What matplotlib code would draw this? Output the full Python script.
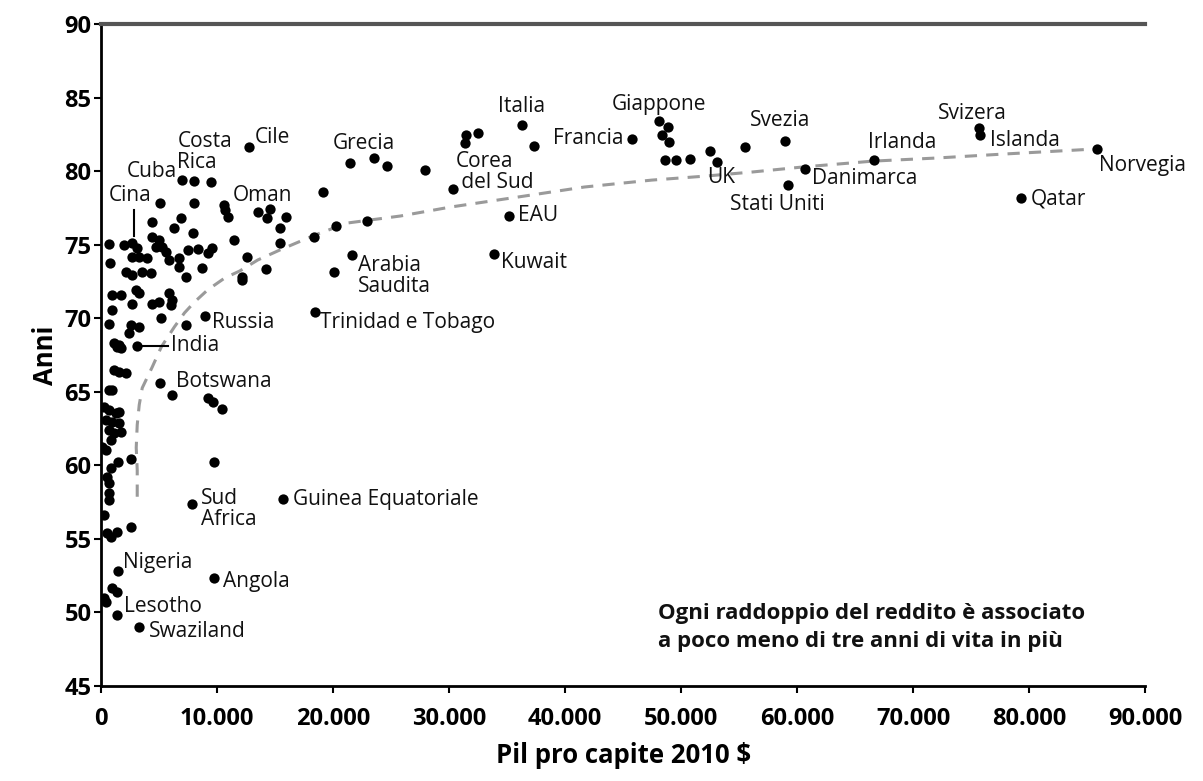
#!/usr/bin/env python3
import matplotlib
matplotlib.use("Agg")
import matplotlib.pyplot as plt

# ---------------------------------------------------------------------------
# Data
# ---------------------------------------------------------------------------
# GDP per capita (2010 $) and life expectancy (years) for each country dot
GDP = [
    7015, 8054, 9439, 12730, 5109, 8054, 10565, 10652, 10912, 13510,
    14549, 14289, 15934, 15415, 15415, 11431, 4417, 6928, 6322, 7967,
    693, 779, 1992, 2685, 3118, 4417, 5023, 4763, 5283, 5629,
    5889, 6755, 7534, 8314, 9180, 9526, 12557, 2685, 3291, 3984,
    2165, 2685, 3551, 4330, 6755, 7361, 8660, 12124, 12124, 14202,
    19139, 18359, 20264, 22949, 20091, 21650, 18446, 21477, 23555, 24681,
    27885, 30310, 31436, 31349, 32475, 36285, 37325, 35160, 33861, 45725,
    48063, 48842, 48323, 48929, 48583, 49535, 50748, 52480, 53086, 55511,
    58975, 59234, 60707, 66595, 75688, 75775, 85821, 79326,
    953, 1732, 3031, 3291, 2685, 4417, 5023, 5889, 6149, 6062,
    953, 5196, 7361, 8920, 693, 2598, 3291, 2425, 1126, 1386,
    1732, 1559, 3118, 1126, 1559, 2165, 5109, 693, 953, 6149,
    9180, 9613, 10392, 260, 693, 1299, 1559, 433, 953, 1559,
    693, 1126, 1732, 866, 87, 433, 2598, 1472, 866, 9699,
    520, 693, 693, 693, 260, 7881, 15675, 2598, 1386, 866,
    520, 1472, 9699, 953, 1386, 260, 433, 1386, 3291,
]
LIFE = [
    79.40, 79.33, 79.27, 81.64, 77.84, 77.84, 77.70, 77.36, 76.89, 77.23,
    77.43, 76.82, 76.89, 76.14, 75.12, 75.33, 76.55, 76.82, 76.14, 75.80,
    75.05, 73.76, 74.99, 75.12, 74.78, 75.53, 75.33, 74.85, 74.85, 74.51,
    73.97, 74.10, 74.65, 74.71, 74.44, 74.78, 74.17, 74.17, 74.17, 74.10,
    73.15, 72.95, 73.15, 73.08, 73.49, 72.81, 73.42, 72.81, 72.61, 73.36,
    78.59, 75.53, 76.28, 76.62, 73.15, 74.31, 70.43, 80.56, 80.90, 80.35,
    80.08, 78.79, 82.46, 81.92, 82.60, 83.14, 81.71, 76.96, 74.38, 82.19,
    83.41, 83.00, 82.46, 81.98, 80.76, 80.76, 80.83, 81.37, 80.62, 81.64,
    82.05, 79.06, 80.15, 80.76, 82.93, 82.46, 81.51, 78.18,
    71.59, 71.59, 71.93, 71.73, 70.98, 70.98, 71.11, 71.73, 71.25, 70.91,
    70.57, 70.03, 69.55, 70.16, 69.62, 69.55, 69.42, 69.01, 68.33, 68.06,
    67.99, 68.19, 68.13, 66.49, 66.36, 66.29, 65.61, 65.14, 65.14, 64.80,
    64.59, 64.32, 63.85, 63.98, 63.78, 63.57, 63.64, 63.10, 62.96, 62.89,
    62.42, 62.21, 62.28, 61.74, 61.26, 61.06, 60.45, 60.24, 59.84, 60.24,
    59.23, 58.82, 58.14, 57.66, 56.64, 57.39, 57.73, 55.83, 55.49, 55.15,
    55.42, 52.84, 52.36, 51.68, 51.41, 51.00, 50.73, 49.85, 49.04,
]

# Dashed trend curve
CURVE_GDP = [3118, 3118, 3031, 3118, 3291, 3551, 4417, 5196, 6322, 7188,
             8054, 9180, 10652, 11951, 13510, 15415, 18446, 21217, 25807,
             30137, 35939, 41655, 47457, 52047, 56117, 60447, 66509, 71965,
             77767, 85561]
CURVE_LIFE = [57.87, 59.70, 61.20, 62.76, 64.12, 65.27, 66.70, 68.06, 69.42,
              70.37, 71.11, 71.93, 72.74, 73.22, 73.97, 74.65, 75.67, 76.48,
              76.96, 77.57, 78.25, 78.93, 79.40, 79.67, 79.95, 80.29, 80.69,
              80.90, 81.17, 81.51]

# Country labels: text, x, y (left edge, vertical centre)
LABELS = [
    ("Cuba", 2252, 79.98), ("Costa\nRica", 6582, 81.34), ("Cile", 13250, 82.32),
    ("Cina", 693, 78.32), ("Oman", 11345, 78.38), ("Grecia", 20005, 81.92),
    ("Italia", 34207, 84.43), ("Francia", 38970, 82.26),
    ("Giappone", 43993, 84.57), ("Svezia", 55944, 83.48),
    ("Svizera", 72138, 83.95), ("Islanda", 76641, 82.12),
    ("Irlanda", 66076, 81.98), ("Norvegia", 85994, 80.42),
    ("Qatar", 80105, 78.11), ("Danimarca", 61313, 79.54), ("UK", 52220, 79.61),
    ("Stati Uniti", 54212, 77.77), ("Corea\n del Sud", 30570, 79.98),
    ("EAU", 35939, 77.02), ("Kuwait", 34467, 73.83),
    ("Arabia\nSaudita", 22170, 72.85), ("Trinidad e Tobago", 18879, 69.69),
    ("Russia", 9526, 69.69), ("India", 6062, 68.13), ("Botswana", 6495, 65.68),
    ("Sud\nAfrica", 8573, 57.02), ("Guinea Equatoriale", 16541, 57.66),
    ("Nigeria", 1905, 53.38), ("Angola", 10479, 52.09),
    ("Lesotho", 1992, 50.39), ("Swaziland", 4157, 48.70),
]

X_TICKS = [0, 10000, 20000, 30000, 40000, 50000, 60000, 70000, 80000, 90000]
X_TICKLABELS = ["0", "10.000", "20.000", "30.000", "40.000", "50.000",
                "60.000", "70.000", "80.000", "90.000"]
Y_TICKS = [45, 50, 55, 60, 65, 70, 75, 80, 85, 90]

NOTE = "Ogni raddoppio del reddito è associato\na poco meno di tre anni di vita in più"

# ---------------------------------------------------------------------------
# Plot
# ---------------------------------------------------------------------------
plt.rcParams["font.family"] = ["Open Sans", "DejaVu Sans"]

fig = plt.figure(figsize=(12.03, 7.81), dpi=100)
ax = fig.add_axes([0.084, 0.1216, 0.868, 0.8474])

ax.plot(CURVE_GDP, CURVE_LIFE, color="#9a9a9a", linewidth=2.2,
        linestyle=(0, (4, 3)), zorder=1)
ax.scatter(GDP, LIFE, s=55, color="black", linewidths=0, zorder=3)

for text, x, y in LABELS:
    ax.text(x, y, text, fontsize=15, ha="left", va="center",
            color="#111111", linespacing=1.0, zorder=4)

# leader lines for Cina and India
ax.plot([2858, 2858], [77.36, 75.6], color="black", linewidth=1.5, zorder=2)
ax.plot([3600, 5800], [68.13, 68.13], color="black", linewidth=1.5, zorder=2)

ax.text(47976, 48.97, NOTE, fontsize=16, fontweight="bold", ha="left",
        va="center", color="#111111", linespacing=1.45)

ax.set_xlim(0, 90000)
ax.set_ylim(45, 90)
ax.set_xticks(X_TICKS)
ax.set_xticklabels(X_TICKLABELS)
ax.set_yticks(Y_TICKS)
ax.tick_params(axis="x", direction="out", length=5, width=1.5,
               labelsize=17, pad=10)
ax.tick_params(axis="y", direction="out", length=5, width=1.5,
               labelsize=17, pad=2)
for lab in ax.get_xticklabels() + ax.get_yticklabels():
    lab.set_fontweight("bold")

ax.spines["right"].set_visible(False)
ax.spines["left"].set_linewidth(2)
ax.spines["bottom"].set_linewidth(2)
ax.spines["top"].set_linewidth(3)
ax.spines["top"].set_color("#555555")

ax.set_xlabel("Pil pro capite 2010 $", fontsize=18.5, fontweight="bold", labelpad=8)
ax.set_ylabel("Anni", fontsize=18.5, fontweight="bold", labelpad=4)

fig.savefig("out.png", dpi=100)
